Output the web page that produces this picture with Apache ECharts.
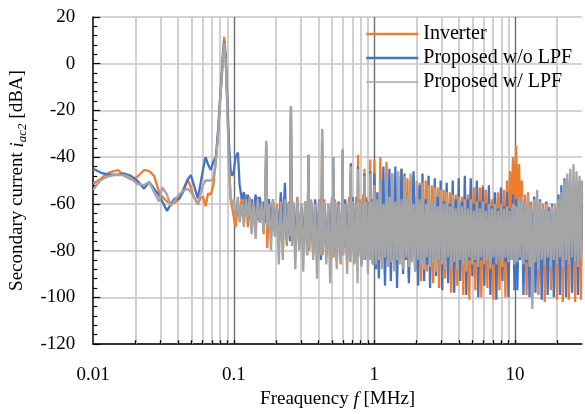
<!DOCTYPE html>
<html><head><meta charset="utf-8">
<script src="https://cdn.jsdelivr.net/npm/echarts@6/dist/echarts.min.js"></script>
<style>html,body{margin:0;padding:0;background:#fff}#c{width:585px;height:414px}</style>
</head><body><div id="c"></div>
<script>
// Frequency bins [MHz]
const freqMHz = [
 0.010,0.0112,0.0125,0.014,0.015,0.0166,0.0185,0.0205,0.023,0.025,
 0.0271,0.0294,0.031,0.0335,0.0357,0.038,0.0407,0.0435,0.047,0.0495,
 0.052,0.0555,0.058,0.0605,0.063,0.0655,0.0686,0.0715,0.0745,0.0775,
 0.080,0.0825,0.084,0.0855,0.0875,0.090,0.0925,0.095,0.0975,
 0.100,0.103,0.107,0.110,0.114,0.118,0.122,0.126,0.130,0.134,
 0.138,0.143,0.148,0.153,0.158,0.163,0.167,0.170,0.173,0.178,
 0.184,0.190,0.196,0.203,0.209,0.216,0.223,0.231,0.238,0.246,
 0.251,0.255,0.259,0.265,0.274,0.283,0.292,0.302,0.312,0.322,
 0.333,0.337,0.340,0.344,0.355,0.367,0.379,0.391,0.404,0.417,
 0.422,0.425,0.428,0.440,0.455,0.470,0.485,0.500,0.507,0.510,
 0.513,0.525,0.540,0.557,0.575,0.590,0.595,0.600,0.620,0.640,
 0.660,0.676,0.680,0.684,0.700,0.720,0.740,0.760,0.765,0.770,
 0.790,0.810,0.830,0.846,0.850,0.854,0.875,0.900,0.920,0.932,
 0.935,0.938,0.955,0.975,
 1.00,1.025,1.05,1.076,1.103,1.13,1.16,1.19,1.22,1.25,
 1.28,1.31,1.34,1.38,1.41,1.45,1.48,1.52,1.56,1.6,
 1.64,1.68,1.72,1.76,1.81,1.85,1.9,1.95,2.0,2.05,
 2.1,2.15,2.2,2.26,2.32,2.37,2.43,2.49,2.56,2.62,
 2.69,2.75,2.82,2.89,2.96,3.04,3.11,3.19,3.27,3.35,
 3.44,3.52,3.61,3.7,3.79,3.89,3.98,4.08,4.19,4.29,
 4.4,4.51,4.62,4.74,4.85,4.98,5.1,5.23,5.36,5.49,
 5.63,5.77,5.91,6.06,6.21,6.37,6.53,6.69,6.86,7.03,
 7.2,7.38,7.57,7.76,7.95,8.15,8.35,8.56,8.78,9.0,
 9.22,9.45,9.69,9.93,
 10.2,10.4,10.7,10.9,11.2,11.5,11.8,12.1,12.4,12.7,
 13.0,13.3,13.7,14.0,14.4,14.7,15.1,15.5,15.9,16.3,
 16.7,17.1,17.5,18.0,18.4,18.9,19.4,19.9,20.4,20.9,
 21.4,21.9,22.5,23.1,23.6,24.2,24.8,25.5,26.1,26.8,
 27.4,28.1,28.8,29.5,30.0
];
// Inverter [dBA]
const inverter = [
 -51.4,-49.5,-47,-46,-45.5,-48,-49.5,-48.5,-45.5,-46,
 -48,-55,-57,-59,-60,-59.5,-58,-54,-49.7,-53,
 -57,-60.3,-57.5,-57,-61,-55.6,-56,-52,-42,-28,
 -14,-2,6,11.5,4,-18,-42,-58,-62,
 -62,-70,-60,-66,-57,-63,-56,-70,-58,-72,
 -60,-65,-57,-68,-62,-73,-60,-40,-79,-62,
 -68,-58,-74,-60,-77,-57,-70,-62,-78,-59,
 -72,-22,-76,-62,-80,-57,-78,-60,-75,-63,
 -82,-58,-45,-80,-59,-78,-61,-84,-58,-80,
 -60,-33,-82,-58,-80,-60,-85,-57,-79,-45,
 -83,-58,-80,-61,-86,-58,-42,-82,-60,-80,
 -57,-85,-46,-80,-58,-83,-57,-80,-39,-82,
 -58,-84,-56,-80,-45,-84,-57,-82,-59,-80,
 -41,-83,-58,-85,
 -41,-83,-58,-88,-40,-84,-56,-90,-42,-83,
 -60,-89,-47,-84,-58,-91,-48,-83,-45,-88,
 -57,-84,-49,-92,-59,-83,-48,-88,-60,-84,
 -51,-93,-58,-84,-50,-89,-61,-83,-52,-94,
 -59,-84,-53,-96,-60,-83,-54,-92,-61,-84,
 -55,-98,-60,-84,-56,-95,-62,-83,-57,-99,
 -61,-84,-56,-101,-54,-83,-53,-97,-52,-84,
 -53,-100,-52,-84,-54,-96,-55,-83,-58,-101,
 -56,-84,-55,-97,-57,-83,-54,-100,-50,-84,
 -46,-62,-40,-60,
 -35,-62,-43,-64,-50,-85,-56,-99,-55,-84,
 -59,-100,-57,-84,-60,-99,-62,-85,-60,-102,
 -63,-84,-61,-97,-64,-85,-62,-101,-60,-84,
 -62,-102,-58,-85,-60,-101,-62,-84,-60,-102,
 -58,-85,-61,-101,-60
];
// Proposed w/o LPF [dBA]
const proposedNoLpf = [
 -45,-46.5,-47.5,-47.5,-47.5,-47,-48,-50,-53.5,-50.6,
 -53.5,-56.5,-59,-63,-60,-57.7,-58,-55,-49.5,-47.7,
 -52,-57.7,-51.4,-45,-40,-43,-45.5,-42,-40,-28,
 -15,-3,5,9.6,3,-15,-35,-46,-48,
 -46,-40,-38,-52,-58,-55,-64,-56,-66,-58,
 -63,-56,-67,-57,-65,-59,-68,-34,-66,-58,
 -70,-60,-72,-62,-74,-55,-73,-51,-75,-60,
 -76,-18.5,-74,-60,-78,-58,-76,-62,-80,-59,
 -78,-62,-39,-75,-60,-82,-58,-79,-62,-84,
 -63,-28.5,-77,-60,-83,-61,-80,-58,-82,-40,
 -78,-60,-85,-59,-81,-62,-37,-79,-58,-84,
 -60,-80,-42.6,-78,-57,-85,-60,-82,-44,-80,
 -59,-86,-61,-83,-47,-79,-58,-84,-60,-82,
 -46,-80,-58,-86,
 -47,-88,-55,-92,-50,-83,-44,-95,-58,-84,
 -45,-93,-56,-85,-44,-96,-57,-83,-45,-90,
 -47,-84,-58,-94,-50,-82,-46,-89,-57,-95,
 -52,-84,-47,-93,-58,-86,-48,-96,-60,-83,
 -49,-91,-57,-84,-50,-97,-59,-85,-51,-94,
 -60,-84,-50,-98,-58,-85,-49,-93,-59,-84,
 -48,-99,-58,-84,-49,-91,-60,-85,-50,-100,
 -59,-84,-53,-95,-60,-83,-52,-99,-61,-86,
 -55,-101,-62,-84,-53,-93,-61,-85,-55,-100,
 -62,-84,-56,-97,
 -58,-97,-63,-84,-57,-99,-61,-85,-58,-100,
 -63,-84,-57,-98,-62,-85,-58,-101,-63,-84,
 -59,-99,-62,-85,-60,-100,-63,-84,-56,-99,
 -52,-85,-49,-100,-50,-84,-54,-98,-57,-85,
 -53,-99,-50,-84,-55
];
// Proposed w/ LPF [dBA]
const proposedLpf = [
 -54,-50,-48.5,-47.7,-47.7,-47.7,-49,-51.5,-52,-50.6,
 -55,-59,-53,-56,-61,-58.5,-56,-54.5,-53.5,-55,
 -57,-60,-55.6,-52,-50,-50,-50,-49,-42,-30,
 -16,-4,4,9,2,-20,-45,-58,-60,
 -58,-65,-57,-68,-60,-70,-58,-66,-57,-73,
 -59,-75,-58,-68,-60,-72,-58,-33,-70,-60,
 -80,-58,-74,-61,-86,-59,-84,-58,-76,-60,
 -74,-18,-78,-59,-88,-58,-80,-60,-89,-59,
 -82,-61,-39,-79,-58,-84,-60,-92,-59,-82,
 -60,-28,-80,-59,-86,-60,-94,-58,-83,-40,
 -81,-59,-88,-60,-84,-59,-36.5,-82,-60,-90,
 -59,-84,-44,-82,-59,-86,-60,-94,-45,-83,
 -59,-87,-60,-84,-48,-82,-59,-90,-60,-84,
 -47,-82,-59,-86,
 -52,-86,-58,-84,-50,-88,-60,-83,-49,-87,
 -57,-85,-47,-89,-59,-84,-46,-86,-58,-88,
 -48,-83,-57,-87,-47,-85,-60,-89,-50,-84,
 -58,-86,-51,-88,-60,-83,-52,-87,-59,-85,
 -53,-89,-61,-84,-54,-86,-60,-88,-55,-83,
 -61,-87,-56,-85,-62,-88,-57,-84,-61,-86,
 -58,-89,-62,-83,-58,-86,-63,-84,-59,-87,
 -62,-83,-59,-86,-63,-84,-60,-88,-62,-83,
 -60,-86,-63,-84,-60,-87,-62,-83,-61,-85,
 -63,-84,-60,-86,
 -61,-85,-58,-83,-57,-86,-60,-84,-56,-87,
 -61,-105,-58,-85,-54,-88,-59,-84,-62,-86,
 -60,-83,-63,-87,-61,-84,-60,-86,-58,-83,
 -55,-87,-50,-84,-47,-86,-45,-83,-43,-85,
 -46,-87,-48,-84,-50
];
const seriesNames = ['Inverter', 'Proposed w/o LPF', 'Proposed w/ LPF'];
const seriesColors = ['#ED7D31', '#4472C4', '#A5A5A5'];
const decadeLines = [0.1, 1, 10];
const minorLines = [0.02,0.03,0.04,0.05,0.06,0.07,0.08,0.09,
                    0.2,0.3,0.4,0.5,0.6,0.7,0.8,0.9,
                    2,3,4,5,6,7,8,9,20];
const xMin = 0.01, xMax = 30, yMin = -120, yMax = 20, yStep = 20;

const FONT = "'Liberation Serif','Times New Roman',serif";
const chart = echarts.init(document.getElementById('c'), null, {renderer: 'canvas'});
const toPairs = arr => freqMHz.map((f, i) => [f, arr[i]]);
const allTickFreqs = minorLines.concat(decadeLines);

const option = {
  animation: false,
  backgroundColor: '#fff',
  grid: {left: 92, right: 1, top: 17, bottom: 64, containLabel: false},
  legend: {
    data: [
      {name: seriesNames[0], lineStyle: {width: 2.6}},
      {name: seriesNames[1], lineStyle: {width: 2.6}},
      {name: seriesNames[2], lineStyle: {width: 1.3}}
    ],
    orient: 'vertical',
    left: 360, top: 19,
    itemWidth: 52, itemHeight: 14, itemGap: 4,
    itemStyle: {opacity: 0},
    textStyle: {fontFamily: FONT, fontSize: 20, color: '#000'}
  },
  xAxis: {
    type: 'log', logBase: 10, min: xMin, max: xMax,
    name: '{n|Freaquency }{i|f}{n| [MHz]}',
    nameLocation: 'middle', nameGap: 46,
    nameTextStyle: {
      fontFamily: FONT, fontSize: 19, color: '#000',
      rich: {n: {fontFamily: FONT, fontSize: 19, color: '#000'},
             i: {fontFamily: FONT, fontSize: 19, color: '#000', fontStyle: 'italic'}}
    },
    axisLine: {show: true, onZero: false, lineStyle: {color: '#000', width: 1.5}},
    axisTick: {show: false},
    splitLine: {show: false},
    axisLabel: {
      fontFamily: FONT, fontSize: 19, color: '#000', margin: 22,
      formatter: v => {
        const l = Math.log10(v);
        if (Math.abs(l - Math.round(l)) > 0.01) return '';
        return String(parseFloat(Math.pow(10, Math.round(l)).toPrecision(3)));
      }
    }
  },
  yAxis: {
    type: 'value', min: yMin, max: yMax, interval: yStep,
    name: '{n|Secondary current }{i|i}{s|ac2}{n| [dBA]}',
    nameLocation: 'middle', nameGap: 55, nameRotate: 90,
    nameTextStyle: {
      fontFamily: FONT, fontSize: 19, color: '#000',
      rich: {n: {fontFamily: FONT, fontSize: 19, color: '#000', lineHeight: 24},
             i: {fontFamily: FONT, fontSize: 19, color: '#000', fontStyle: 'italic', lineHeight: 24},
             s: {fontFamily: FONT, fontSize: 13, color: '#000', fontStyle: 'italic', lineHeight: 12, verticalAlign: 'bottom'}}
    },
    axisLine: {show: true, onZero: false, lineStyle: {color: '#000', width: 1.5}},
    axisTick: {show: true, inside: true, length: 7, lineStyle: {color: '#000', width: 1.2}},
    minorTick: {show: true, splitNumber: 5, length: 4, lineStyle: {color: '#000', width: 1.2}},
    splitLine: {show: true, lineStyle: {color: '#c4c4c4', width: 1.6}},
    axisLabel: {fontFamily: FONT, fontSize: 19, color: '#000', margin: 18}
  },
  series: [
    {
      name: '_grid', type: 'line', data: [], silent: true, z: 1,
      markLine: {
        silent: true, symbol: 'none', z: 1, animation: false,
        label: {show: false},
        data: minorLines.map(f => ({xAxis: f, lineStyle: {color: '#c4c4c4', width: 1.6, type: 'solid'}}))
          .concat(decadeLines.map(f => ({xAxis: f, lineStyle: {color: '#6e6e6e', width: 1.4, type: 'solid'}})))
          .concat(allTickFreqs.map(f => [
            {coord: [f, yMin], lineStyle: {color: '#000', width: 1.3, type: 'solid'}},
            {coord: [f, yMin + 1.6]}
          ]))
      }
    },
    {name: seriesNames[0], type: 'line', data: toPairs(inverter), symbol: 'none', z: 2,
     lineStyle: {color: seriesColors[0], width: 2.3}, itemStyle: {color: seriesColors[0]}},
    {name: seriesNames[1], type: 'line', data: toPairs(proposedNoLpf), symbol: 'none', z: 3,
     lineStyle: {color: seriesColors[1], width: 2.3}, itemStyle: {color: seriesColors[1]}},
    {name: seriesNames[2], type: 'line', data: toPairs(proposedLpf), symbol: 'none', z: 4,
     lineStyle: {color: seriesColors[2], width: 2.3}, itemStyle: {color: seriesColors[2]}}
  ]
};
chart.setOption(option);
</script></body></html>
